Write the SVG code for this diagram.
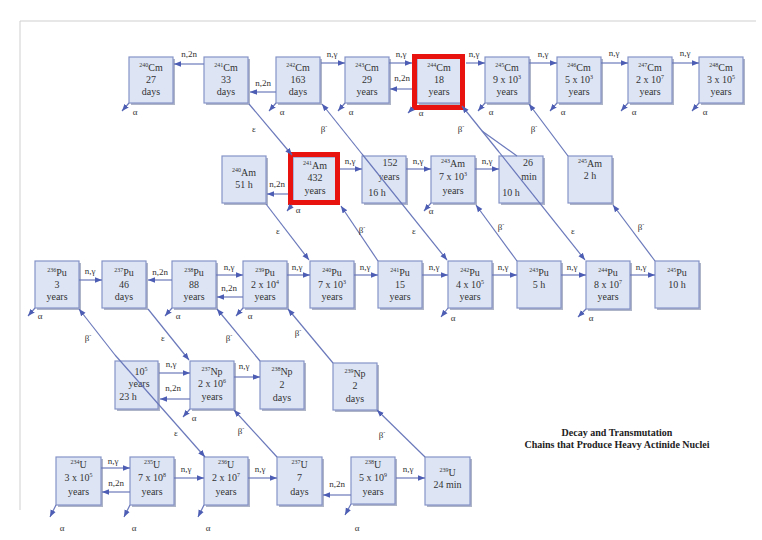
<svg xmlns="http://www.w3.org/2000/svg" width="762" height="540" viewBox="0 0 762 540">
<defs>
<marker id="ah" viewBox="0 0 10 10" refX="10" refY="5" markerWidth="7" markerHeight="7" markerUnits="userSpaceOnUse" orient="auto"><path d="M0,1 L10,5 L0,9 z" fill="#4c5db3"/></marker>
<style>
.s{fill:#aeb5c9}
.b{fill:#dde5f5;stroke:#8593c6;stroke-width:1.2}
.r{fill:none;stroke:#e8120f;stroke-width:5}
.t{font-family:"Liberation Serif","Times New Roman",serif;font-size:10px;fill:#333;text-anchor:middle}
.l{font-family:"Liberation Serif","Times New Roman",serif;font-size:9px;fill:#333;text-anchor:middle}
.sp{font-size:6px}
.c{stroke:#6b79bb;stroke-width:1.2;fill:none;marker-end:url(#ah)}
.d{stroke:#6b79bb;stroke-width:1.2;fill:none}
.h{font-family:"Liberation Serif","Times New Roman",serif;font-size:10px;font-weight:bold;fill:#222;text-anchor:middle}
.f{stroke:#cfcfcf;stroke-width:1;fill:none}
</style>
</defs>
<rect width="762" height="540" fill="#fff"/>
<path class="f" d="M20,510 V21 H756"/>
<g id="nodes">
<g id="cm240"><rect class="s" x="131" y="59" width="44" height="46"/><rect class="b" x="129" y="57" width="44" height="46"/><text class="t" x="151" y="71"><tspan class="sp" dy="-4">240</tspan><tspan dy="4">Cm</tspan></text><text class="t" x="151" y="83">27</text><text class="t" x="151" y="95">days</text></g>
<g id="cm241"><rect class="s" x="206" y="59" width="44" height="46"/><rect class="b" x="204" y="57" width="44" height="46"/><text class="t" x="226" y="71"><tspan class="sp" dy="-4">241</tspan><tspan dy="4">Cm</tspan></text><text class="t" x="226" y="83">33</text><text class="t" x="226" y="95">days</text></g>
<g id="cm242"><rect class="s" x="278" y="59" width="44" height="46"/><rect class="b" x="276" y="57" width="44" height="46"/><text class="t" x="298" y="71"><tspan class="sp" dy="-4">242</tspan><tspan dy="4">Cm</tspan></text><text class="t" x="298" y="83">163</text><text class="t" x="298" y="95">days</text></g>
<g id="cm243"><rect class="s" x="347" y="59" width="44" height="46"/><rect class="b" x="345" y="57" width="44" height="46"/><text class="t" x="367" y="71"><tspan class="sp" dy="-4">243</tspan><tspan dy="4">Cm</tspan></text><text class="t" x="367" y="83">29</text><text class="t" x="367" y="95">years</text></g>
<g id="cm244"><rect class="s" x="419" y="59" width="44" height="46"/><rect class="b" x="417" y="57" width="44" height="46"/><text class="t" x="439" y="71"><tspan class="sp" dy="-4">244</tspan><tspan dy="4">Cm</tspan></text><text class="t" x="439" y="83">18</text><text class="t" x="439" y="95">years</text><rect class="r" x="414.5" y="56.5" width="48" height="51"/></g>
<g id="cm245"><rect class="s" x="487" y="59" width="44" height="46"/><rect class="b" x="485" y="57" width="44" height="46"/><text class="t" x="507" y="71"><tspan class="sp" dy="-4">245</tspan><tspan dy="4">Cm</tspan></text><text class="t" x="507" y="83">9 x 10<tspan class="sp" dy="-4">3</tspan></text><text class="t" x="507" y="95">years</text></g>
<g id="cm246"><rect class="s" x="559" y="59" width="44" height="46"/><rect class="b" x="557" y="57" width="44" height="46"/><text class="t" x="579" y="71"><tspan class="sp" dy="-4">246</tspan><tspan dy="4">Cm</tspan></text><text class="t" x="579" y="83">5 x 10<tspan class="sp" dy="-4">3</tspan></text><text class="t" x="579" y="95">years</text></g>
<g id="cm247"><rect class="s" x="630" y="59" width="44" height="46"/><rect class="b" x="628" y="57" width="44" height="46"/><text class="t" x="650" y="71"><tspan class="sp" dy="-4">247</tspan><tspan dy="4">Cm</tspan></text><text class="t" x="650" y="83">2 x 10<tspan class="sp" dy="-4">7</tspan></text><text class="t" x="650" y="95">years</text></g>
<g id="cm248"><rect class="s" x="701" y="59" width="44" height="46"/><rect class="b" x="699" y="57" width="44" height="46"/><text class="t" x="721" y="71"><tspan class="sp" dy="-4">248</tspan><tspan dy="4">Cm</tspan></text><text class="t" x="721" y="83">3 x 10<tspan class="sp" dy="-4">5</tspan></text><text class="t" x="721" y="95">years</text></g>

<g id="am240"><rect class="s" x="224" y="158" width="44" height="47"/><rect class="b" x="222" y="156" width="44" height="47"/><text class="t" x="244" y="176"><tspan class="sp" dy="-4">240</tspan><tspan dy="4">Am</tspan></text><text class="t" x="244" y="188">51 h</text></g>
<g id="am241"><rect class="s" x="295" y="159" width="44" height="45"/><rect class="b" x="293" y="157" width="44" height="45"/><text class="t" x="315" y="169"><tspan class="sp" dy="-4">241</tspan><tspan dy="4">Am</tspan></text><text class="t" x="315" y="181">432</text><text class="t" x="315" y="194">years</text><rect class="r" x="290.5" y="154.5" width="47" height="48"/></g>
<g id="am242"><rect class="s" x="364" y="158" width="44" height="47"/><rect class="b" x="362" y="156" width="44" height="47"/><text class="t" x="390" y="166">152</text><text class="t" x="389" y="180">years</text><text class="t" x="377" y="196">16 h</text></g>
<g id="am243"><rect class="s" x="433" y="158" width="44" height="47"/><rect class="b" x="431" y="156" width="44" height="47"/><text class="t" x="453" y="167"><tspan class="sp" dy="-4">243</tspan><tspan dy="4">Am</tspan></text><text class="t" x="453" y="180">7 x 10<tspan class="sp" dy="-4">3</tspan></text><text class="t" x="453" y="194">years</text></g>
<g id="am244"><rect class="s" x="501" y="158" width="44" height="47"/><rect class="b" x="499" y="156" width="44" height="47"/><text class="t" x="528" y="166">26</text><text class="t" x="529" y="180">min</text><text class="t" x="511" y="196">10 h</text></g>
<g id="am245"><rect class="s" x="570" y="158" width="44" height="47"/><rect class="b" x="568" y="156" width="44" height="47"/><text class="t" x="590" y="167"><tspan class="sp" dy="-4">245</tspan><tspan dy="4">Am</tspan></text><text class="t" x="590" y="179">2 h</text></g>

<g id="pu236"><rect class="s" x="37" y="263" width="44" height="47"/><rect class="b" x="35" y="261" width="44" height="47"/><text class="t" x="57" y="276"><tspan class="sp" dy="-4">236</tspan><tspan dy="4">Pu</tspan></text><text class="t" x="57" y="288">3</text><text class="t" x="57" y="300">years</text></g>
<g id="pu237"><rect class="s" x="104" y="263" width="44" height="47"/><rect class="b" x="102" y="261" width="44" height="47"/><text class="t" x="124" y="276"><tspan class="sp" dy="-4">237</tspan><tspan dy="4">Pu</tspan></text><text class="t" x="124" y="288">46</text><text class="t" x="124" y="300">days</text></g>
<g id="pu238"><rect class="s" x="174" y="263" width="44" height="47"/><rect class="b" x="172" y="261" width="44" height="47"/><text class="t" x="194" y="276"><tspan class="sp" dy="-4">238</tspan><tspan dy="4">Pu</tspan></text><text class="t" x="194" y="288">88</text><text class="t" x="194" y="300">years</text></g>
<g id="pu239"><rect class="s" x="245" y="263" width="44" height="47"/><rect class="b" x="243" y="261" width="44" height="47"/><text class="t" x="265" y="276"><tspan class="sp" dy="-4">239</tspan><tspan dy="4">Pu</tspan></text><text class="t" x="265" y="288">2 x 10<tspan class="sp" dy="-4">4</tspan></text><text class="t" x="265" y="300">years</text></g>
<g id="pu240"><rect class="s" x="312" y="263" width="44" height="47"/><rect class="b" x="310" y="261" width="44" height="47"/><text class="t" x="332" y="276"><tspan class="sp" dy="-4">240</tspan><tspan dy="4">Pu</tspan></text><text class="t" x="332" y="288">7 x 10<tspan class="sp" dy="-4">3</tspan></text><text class="t" x="332" y="300">years</text></g>
<g id="pu241"><rect class="s" x="380" y="263" width="44" height="47"/><rect class="b" x="378" y="261" width="44" height="47"/><text class="t" x="400" y="276"><tspan class="sp" dy="-4">241</tspan><tspan dy="4">Pu</tspan></text><text class="t" x="400" y="288">15</text><text class="t" x="400" y="300">years</text></g>
<g id="pu242"><rect class="s" x="450" y="263" width="44" height="47"/><rect class="b" x="448" y="261" width="44" height="47"/><text class="t" x="470" y="276"><tspan class="sp" dy="-4">242</tspan><tspan dy="4">Pu</tspan></text><text class="t" x="470" y="288">4 x 10<tspan class="sp" dy="-4">5</tspan></text><text class="t" x="470" y="300">years</text></g>
<g id="pu243"><rect class="s" x="519" y="263" width="44" height="47"/><rect class="b" x="517" y="261" width="44" height="47"/><text class="t" x="539" y="276"><tspan class="sp" dy="-4">243</tspan><tspan dy="4">Pu</tspan></text><text class="t" x="539" y="288">5 h</text></g>
<g id="pu244"><rect class="s" x="588" y="263" width="44" height="48"/><rect class="b" x="586" y="261" width="44" height="48"/><text class="t" x="608" y="276"><tspan class="sp" dy="-4">244</tspan><tspan dy="4">Pu</tspan></text><text class="t" x="608" y="288">8 x 10<tspan class="sp" dy="-4">7</tspan></text><text class="t" x="608" y="300">years</text></g>
<g id="pu245"><rect class="s" x="657" y="263" width="44" height="47"/><rect class="b" x="655" y="261" width="44" height="47"/><text class="t" x="677" y="276"><tspan class="sp" dy="-4">245</tspan><tspan dy="4">Pu</tspan></text><text class="t" x="677" y="288">10 h</text></g>

<g id="np236"><rect class="s" x="117" y="363" width="43" height="48"/><rect class="b" x="115" y="361" width="43" height="48"/><text class="t" x="141" y="375">10<tspan class="sp" dy="-4">5</tspan></text><text class="t" x="139" y="387">years</text><text class="t" x="128" y="400">23 h</text></g>
<g id="np237"><rect class="s" x="192" y="363" width="44" height="48"/><rect class="b" x="190" y="361" width="44" height="48"/><text class="t" x="212" y="375"><tspan class="sp" dy="-4">237</tspan><tspan dy="4">Np</tspan></text><text class="t" x="212" y="387">2 x 10<tspan class="sp" dy="-4">6</tspan></text><text class="t" x="212" y="400">years</text></g>
<g id="np238"><rect class="s" x="262" y="363" width="44" height="48"/><rect class="b" x="260" y="361" width="44" height="48"/><text class="t" x="282" y="375"><tspan class="sp" dy="-4">238</tspan><tspan dy="4">Np</tspan></text><text class="t" x="282" y="388">2</text><text class="t" x="282" y="401">days</text></g>
<g id="np239"><rect class="s" x="335" y="365" width="44" height="47"/><rect class="b" x="333" y="363" width="44" height="47"/><text class="t" x="355" y="377"><tspan class="sp" dy="-4">239</tspan><tspan dy="4">Np</tspan></text><text class="t" x="355" y="389">2</text><text class="t" x="355" y="402">days</text></g>

<g id="u234"><rect class="s" x="58" y="459" width="45" height="48"/><rect class="b" x="56" y="457" width="45" height="48"/><text class="t" x="78.5" y="468"><tspan class="sp" dy="-4">234</tspan><tspan dy="4">U</tspan></text><text class="t" x="78.5" y="481">3 x 10<tspan class="sp" dy="-4">5</tspan></text><text class="t" x="78.5" y="495">years</text></g>
<g id="u235"><rect class="s" x="132" y="459" width="44" height="48"/><rect class="b" x="130" y="457" width="44" height="48"/><text class="t" x="152" y="468"><tspan class="sp" dy="-4">235</tspan><tspan dy="4">U</tspan></text><text class="t" x="152" y="481">7 x 10<tspan class="sp" dy="-4">8</tspan></text><text class="t" x="152" y="495">years</text></g>
<g id="u236"><rect class="s" x="206" y="459" width="44" height="48"/><rect class="b" x="204" y="457" width="44" height="48"/><text class="t" x="226" y="468"><tspan class="sp" dy="-4">236</tspan><tspan dy="4">U</tspan></text><text class="t" x="226" y="481">2 x 10<tspan class="sp" dy="-4">7</tspan></text><text class="t" x="226" y="495">years</text></g>
<g id="u237"><rect class="s" x="279" y="459" width="45" height="48"/><rect class="b" x="277" y="457" width="45" height="48"/><text class="t" x="299.5" y="468"><tspan class="sp" dy="-4">237</tspan><tspan dy="4">U</tspan></text><text class="t" x="299.5" y="481">7</text><text class="t" x="299.5" y="495">days</text></g>
<g id="u238"><rect class="s" x="353" y="459" width="44" height="47"/><rect class="b" x="351" y="457" width="44" height="47"/><text class="t" x="373" y="468"><tspan class="sp" dy="-4">238</tspan><tspan dy="4">U</tspan></text><text class="t" x="373" y="481">5 x 10<tspan class="sp" dy="-4">9</tspan></text><text class="t" x="373" y="495">years</text></g>
<g id="u239"><rect class="s" x="427" y="459" width="45" height="48"/><rect class="b" x="425" y="457" width="45" height="48"/><text class="t" x="447.5" y="476"><tspan class="sp" dy="-4">239</tspan><tspan dy="4">U</tspan></text><text class="t" x="447.5" y="488">24 min</text></g>
</g>

<g id="connectors">
<path class="c" d="M204,64 H174"/><text class="l" x="189" y="57">n,2n</text>
<path class="c" d="M276,92 H250"/><text class="l" x="263" y="86">n,2n</text>
<path class="c" d="M321,63 H345"/><text class="l" x="332" y="57">n,γ</text>
<path class="c" d="M389,63 H412"/><text class="l" x="401" y="57">n,γ</text>
<path class="c" d="M412,89 H390"/><text class="l" x="402" y="81">n,2n</text>
<path class="c" d="M466,63 H485"/><text class="l" x="474" y="57">n,γ</text>
<path class="c" d="M529,63 H557"/><text class="l" x="543" y="57">n,γ</text>
<path class="c" d="M601,63 H628"/><text class="l" x="614" y="56">n,γ</text>
<path class="c" d="M672,63 H699"/><text class="l" x="685" y="56">n,γ</text>

<path class="c" d="M288,194 H267"/><text class="l" x="277" y="187">n,2n</text>
<path class="c" d="M340,169 H362"/><text class="l" x="350" y="164">n,γ</text>
<path class="c" d="M406,169 H431"/><text class="l" x="418" y="164">n,γ</text>
<path class="c" d="M475,169 H499"/><text class="l" x="487" y="164">n,γ</text>

<path class="c" d="M79,280 H102"/><text class="l" x="90" y="274">n,γ</text>
<path class="c" d="M172,280 H148"/><text class="l" x="160" y="275">n,2n</text>
<path class="c" d="M216,275 H243"/><text class="l" x="229" y="270">n,γ</text>
<path class="c" d="M243,297 H217"/><text class="l" x="229" y="291">n,2n</text>
<path class="c" d="M287,275 H310"/><text class="l" x="297" y="270">n,γ</text>
<path class="c" d="M354,275 H378"/><text class="l" x="365" y="270">n,γ</text>
<path class="c" d="M422,275 H448"/><text class="l" x="434" y="270">n,γ</text>
<path class="c" d="M492,275 H517"/><text class="l" x="503" y="270">n,γ</text>
<path class="c" d="M561,275 H586"/><text class="l" x="572" y="270">n,γ</text>
<path class="c" d="M630,275 H655"/><text class="l" x="641" y="270">n,γ</text>

<path class="c" d="M159,373 H190"/><text class="l" x="171" y="367">n,γ</text>
<path class="c" d="M190,399 H160"/><text class="l" x="173" y="391">n,2n</text>
<path class="c" d="M234,377 H260"/><text class="l" x="244" y="369">n,γ</text>

<path class="c" d="M101,468 H130"/><text class="l" x="113" y="464">n,γ</text>
<path class="c" d="M130,492 H102"/><text class="l" x="116" y="486">n,2n</text>
<path class="c" d="M174,478 H204"/><text class="l" x="186" y="472">n,γ</text>
<path class="c" d="M248,478 H277"/><text class="l" x="260" y="472">n,γ</text>
<path class="c" d="M351,495 H323"/><text class="l" x="337" y="487">n,2n</text>
<path class="c" d="M396,478 H425"/><text class="l" x="408" y="472">n,γ</text>

<path class="c" d="M129,103 l-7,8"/><text class="l" x="135" y="115">α</text>
<path class="c" d="M276,103 l-7,8"/><text class="l" x="282" y="115">α</text>
<path class="c" d="M345,103 l-7,8"/><text class="l" x="351" y="115">α</text>
<path class="c" d="M413,108 l-5,5"/><text class="l" x="421" y="116">α</text>
<path class="c" d="M485,103 l-7,8"/><text class="l" x="491" y="115">α</text>
<path class="c" d="M557,103 l-7,8"/><text class="l" x="563" y="115">α</text>
<path class="c" d="M628,103 l-7,8"/><text class="l" x="634" y="115">α</text>
<path class="c" d="M699,103 l-7,8"/><text class="l" x="705" y="115">α</text>
<path class="c" d="M292,205 l-5,6"/><text class="l" x="298" y="213">α</text>
<path class="c" d="M431,203 l-7,8"/><text class="l" x="431" y="214">α</text>
<path class="c" d="M35,308 l-7,8"/><text class="l" x="40" y="319">α</text>
<path class="c" d="M172,308 l-7,8"/><text class="l" x="178" y="319">α</text>
<path class="c" d="M243,308 l-7,8"/><text class="l" x="250" y="319">α</text>
<path class="c" d="M448,308 l-7,9"/><text class="l" x="453" y="321">α</text>
<path class="c" d="M586,309 l-8,8"/><text class="l" x="591" y="321">α</text>
<path class="c" d="M190,409 l-7,8"/><text class="l" x="194" y="421">α</text>
<path class="c" d="M56,505 l-6,12"/><text class="l" x="62" y="531">α</text>
<path class="c" d="M130,505 l-6,12"/><text class="l" x="134" y="531">α</text>
<path class="c" d="M204,505 l-6,12"/><text class="l" x="208" y="531">α</text>
<path class="c" d="M351,504 l-6,11"/><text class="l" x="357" y="531">α</text>

<path class="c" d="M249,104 L292,155"/><text class="l" x="254" y="132">ε</text>
<path class="c" d="M362,154 L322,104"/><path class="c" d="M362,154 L447,260"/><text class="l" x="324" y="132">β<tspan class="sp" dy="-4">-</tspan></text><text class="l" x="414" y="234">ε</text>
<path class="c" d="M499,152 L462,106"/><path class="c" d="M499,152 L585,260"/><path class="d" d="M482,131 L517,156"/><text class="l" x="461" y="132">β<tspan class="sp" dy="-4">-</tspan></text><text class="l" x="573" y="234">ε</text>
<path class="c" d="M568,156 L529,104"/><text class="l" x="534" y="132">β<tspan class="sp" dy="-4">-</tspan></text>
<path class="c" d="M266,204 L309,260"/><text class="l" x="278" y="234">ε</text>
<path class="c" d="M378,261 L341,206"/><text class="l" x="362" y="233">β<tspan class="sp" dy="-4">-</tspan></text>
<path class="c" d="M517,261 L476,205"/><text class="l" x="501" y="230">β<tspan class="sp" dy="-4">-</tspan></text>
<path class="c" d="M655,261 L613,205"/><text class="l" x="641" y="230">β<tspan class="sp" dy="-4">-</tspan></text>
<path class="c" d="M115,355 L79,309"/><path class="c" d="M115,355 L205,457"/><text class="l" x="88" y="341">β<tspan class="sp" dy="-4">-</tspan></text><text class="l" x="176" y="436">ε</text>
<path class="c" d="M148,309 L189,360"/><text class="l" x="163" y="341">ε</text>
<path class="c" d="M260,361 L217,309"/><text class="l" x="229" y="341">β<tspan class="sp" dy="-4">-</tspan></text>
<path class="c" d="M333,363 L288,309"/><text class="l" x="298" y="336">β<tspan class="sp" dy="-4">-</tspan></text>
<path class="c" d="M277,457 L234,410"/><text class="l" x="241" y="434">β<tspan class="sp" dy="-4">-</tspan></text>
<path class="c" d="M425,457 L377,410"/><text class="l" x="382" y="438">β<tspan class="sp" dy="-4">-</tspan></text>
</g>

<g id="title">
<text class="h" x="617" y="436">Decay and Transmutation</text>
<text class="h" x="617" y="448">Chains that Produce Heavy Actinide Nuclei</text>
</g>
</svg>
